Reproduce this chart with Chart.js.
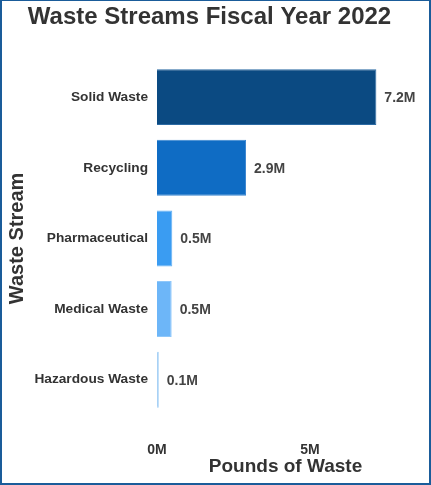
<!DOCTYPE html>
<html>
<head>
<meta charset="utf-8">
<script src="https://cdn.jsdelivr.net/npm/chart.js@4"></script>
<style>
  html, body { margin: 0; padding: 0; background: #fff; }
  #wrap {
    width: 431px; height: 485px; box-sizing: border-box;
    border: 2px solid #1a5c9a; border-top-width: 1px;
    position: relative;
  }
</style>
</head>
<body>
<div id="wrap"><canvas id="chart"></canvas></div>
<script>
const categories = ['Solid Waste', 'Recycling', 'Pharmaceutical', 'Medical Waste', 'Hazardous Waste'];
const poundsMillions = [7.17, 2.91, 0.5, 0.48, 0.06];
const valueLabels = ['7.2M', '2.9M', '0.5M', '0.5M', '0.1M'];
const xTicks = [0, 5];
const barColors = ['#0b4a82', '#0f6cc4', '#3a9cf2', '#6db6f8', '#a0cdf5'];
const barEdges = ['#2c6aa3', '#3a86d0', '#64b2f5', '#8ec7fa', '#a8d2f7'];

const FONT = '"Liberation Sans", Arial, sans-serif';

// writes the value next to each bar
const valueLabelPlugin = {
  id: 'valueLabels',
  afterDatasetsDraw(chart) {
    const ctx = chart.ctx;
    const meta = chart.getDatasetMeta(0);
    ctx.save();
    ctx.font = 'bold 14px ' + FONT;
    ctx.fillStyle = '#444';
    ctx.textBaseline = 'middle';
    ctx.textAlign = 'left';
    meta.data.forEach((bar, i) => {
      ctx.fillText(valueLabels[i], bar.x + 8, bar.y + 1);
    });
    ctx.restore();
  }
};

new Chart(document.getElementById('chart'), {
  type: 'bar',
  data: {
    labels: categories,
    datasets: [{
      data: poundsMillions,
      backgroundColor: barColors,
      borderColor: barEdges,
      borderWidth: 1,
      barPercentage: 0.89,
      categoryPercentage: 0.89
    }]
  },
  options: {
    indexAxis: 'y',
    responsive: true,
    maintainAspectRatio: false,
    animation: false,
    layout: { padding: { right: 15, left: 3, bottom: 5 } },
    plugins: {
      legend: { display: false },
      tooltip: { enabled: false },
      title: {
        display: true,
        text: 'Waste Streams Fiscal Year 2022',
        color: '#333',
        font: { family: FONT, size: 24, weight: 'bold' },
        padding: { top: 2, bottom: 30 }
      }
    },
    scales: {
      x: {
        min: 0,
        max: 8.4,
        afterBuildTicks(scale) { scale.ticks = xTicks.map(v => ({ value: v })); },
        afterFit(scale) { scale.height = 63; },
        grid: { display: false },
        border: { display: false },
        ticks: {
          color: '#333',
          padding: 19,
          font: { family: FONT, size: 14, weight: 'bold' },
          callback: v => v + 'M'
        },
        title: {
          display: true,
          text: 'Pounds of Waste',
          color: '#333',
          padding: { top: 0, bottom: 0 },
          font: { family: FONT, size: 19, weight: 'bold' }
        }
      },
      y: {
        afterFit(scale) { scale.width = 152; },
        grid: { display: false },
        border: { display: false },
        ticks: {
          color: '#333',
          padding: 1,
          font: { family: FONT, size: 13.7, weight: 'bold' }
        },
        title: {
          display: true,
          text: 'Waste Stream',
          color: '#333',
          padding: { top: 0, bottom: 0 },
          font: { family: FONT, size: 20, weight: 'bold' }
        }
      }
    }
  },
  plugins: [valueLabelPlugin]
});
</script>
</body>
</html>
